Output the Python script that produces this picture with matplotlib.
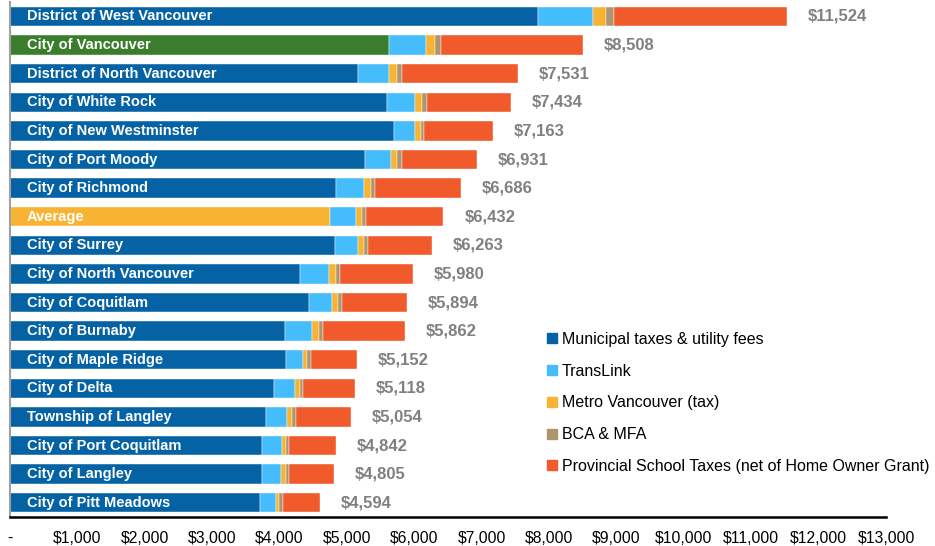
import matplotlib.pyplot as plt
import numpy as np

plt.rcParams['font.family'] = ['Liberation Sans', 'DejaVu Sans']

# data, top row first
cities = ["District of West Vancouver", "City of Vancouver", "District of North Vancouver",
          "City of White Rock", "City of New Westminster", "City of Port Moody",
          "City of Richmond", "Average", "City of Surrey", "City of North Vancouver",
          "City of Coquitlam", "City of Burnaby", "City of Maple Ridge", "City of Delta",
          "Township of Langley", "City of Port Coquitlam", "City of Langley",
          "City of Pitt Meadows"]
totals = [11524, 8508, 7531, 7434, 7163, 6931, 6686, 6432, 6263, 5980,
          5894, 5862, 5152, 5118, 5054, 4842, 4805, 4594]
municipal = [7840, 5620, 5170, 5590, 5700, 5265, 4835, 4750, 4820, 4300,
             4435, 4080, 4095, 3920, 3800, 3745, 3745, 3710]
translink = [810, 550, 455, 420, 310, 385, 415, 385, 345, 430,
             345, 405, 255, 310, 315, 285, 275, 230]
metro = [195, 135, 115, 100, 85, 95, 100, 90, 85, 105,
         85, 100, 60, 75, 75, 65, 70, 55]
bca = [120, 85, 75, 75, 45, 65, 65, 60, 55, 60,
       55, 65, 50, 50, 50, 50, 45, 50]
# school = remainder up to the total
school = [t - m - tl - mv - b for t, m, tl, mv, b in zip(totals, municipal, translink, metro, bca)]

series = ["Municipal taxes & utility fees", "TransLink", "Metro Vancouver (tax)",
          "BCA & MFA", "Provincial School Taxes (net of Home Owner Grant)"]
colors = ["#0563A5", "#45BDFD", "#F8B332", "#AE9570", "#F15A2B"]

fig = plt.figure(figsize=(9.35, 5.46), dpi=100)
ax = fig.add_axes([0.0107, 0.053, 0.937, 0.943])

y = np.arange(len(cities))
muni_colors = []
for c in cities:
    if c == "City of Vancouver":
        muni_colors.append("#3A7D2C")
    elif c == "Average":
        muni_colors.append("#F8B332")
    else:
        muni_colors.append(colors[0])

left = np.zeros(len(cities))
handles = []
for i, vals in enumerate([municipal, translink, metro, bca, school]):
    col = muni_colors if i == 0 else colors[i]
    ax.barh(y, vals, left=left, height=0.68, color=col, edgecolor="white", linewidth=0.3)
    left += np.array(vals)
    handles.append(plt.Line2D([], [], marker="s", ls="", color=colors[i], markersize=7))

for yi, name, tot in zip(y, cities, totals):
    ax.annotate(name, (0, yi), xytext=(12, 0), textcoords="offset points",
                va="center", ha="left", color="white", fontweight="bold", fontsize=10.5)
    ax.annotate("${:,}".format(tot), (tot, yi), xytext=(15, 0), textcoords="offset points",
                va="center", ha="left", color="#808080", fontweight="bold", fontsize=12)

ax.set_ylim(len(cities) - 0.5, -0.5)
ax.set_xlim(0, 13000)
xt = np.arange(0, 13001, 1000)
ax.set_xticks(xt)
ax.set_xticklabels(["-"] + ["${:,}".format(v) for v in xt[1:]], fontsize=11.3)
ax.set_yticks([])
ax.tick_params(axis="x", length=0, pad=10)
ax.spines["top"].set_visible(False)
ax.spines["right"].set_visible(False)
ax.spines["left"].set_color("#A0A0A0")
ax.spines["left"].set_linewidth(1.5)
ax.spines["bottom"].set_color("black")
ax.spines["bottom"].set_linewidth(1.8)

fig.legend(handles, series, loc="upper left", bbox_to_anchor=(0.5786, 0.404),
           frameon=False, fontsize=11.5, handlelength=0.6, handletextpad=0.3,
           labelspacing=1.05, borderaxespad=0)

fig.savefig("out.png", dpi=100)
